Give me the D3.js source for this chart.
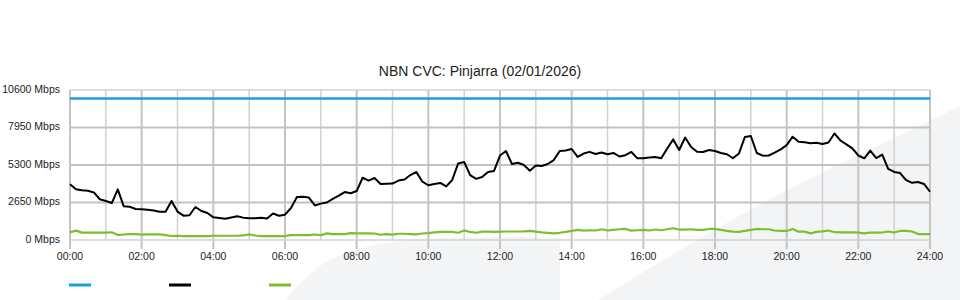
<!DOCTYPE html>
<html><head><meta charset="utf-8">
<script src="https://cdn.jsdelivr.net/npm/d3@7/dist/d3.min.js"></script>
<style>
body{margin:0;background:#fff}
svg{display:block;font-family:"Liberation Sans",Arial,sans-serif}
</style>
</head><body>
<svg id="chart" width="960" height="300"></svg>
<script>
// ---------- data ----------
const chartTitle = "NBN CVC: Pinjarra (02/01/2026)";
const sampleMinutes = 10; // one value every 10 minutes, 00:00 .. 24:00
const yTicks = [0, 2650, 5300, 7950, 10600];
const xTickLabels = ["00:00","02:00","04:00","06:00","08:00","10:00","12:00","14:00","16:00","18:00","20:00","22:00","24:00"];
const capacityHours = [0, 24];
const capacityMbps = [10000, 10000];
const totalMbps = [
3940,3580,3520,3480,3360,2880,2760,2610,3580,2380,2350,2190,2170,2140,2080,1990,2000,2760,2010,1720,
1750,2330,2050,1910,1600,1550,1500,1590,1680,1580,1540,1530,1580,1520,1870,1710,1790,2260,3040,3060,
3000,2440,2570,2650,2910,3130,3390,3300,3460,4400,4200,4380,3960,3980,3990,4200,4270,4590,4810,4120,
3870,3960,4030,3790,4240,5410,5510,4590,4320,4450,4810,4880,5970,6290,5370,5460,5300,4900,5260,5230,
5370,5650,6290,6320,6430,5870,6110,6230,6080,6180,6060,6150,5900,5990,6220,5770,5770,5830,5870,5780,
6470,7110,6360,7240,6570,6240,6220,6360,6290,6150,6060,5780,6110,7280,7350,6150,5960,5970,6180,6400,
6700,7300,6950,6900,6830,6870,6780,6890,7530,7030,6760,6470,5970,5770,6320,5790,6040,5020,4810,4730,
4230,4040,4100,3960,3410];
const otherMbps = [
540,660,520,520,520,520,520,540,350,390,410,420,380,400,400,400,350,280,300,280,
280,280,280,280,300,300,300,300,300,320,400,320,280,280,280,280,280,350,350,350,
350,390,340,470,420,420,420,480,470,470,470,460,370,420,380,440,440,420,400,460,
490,540,570,570,570,510,670,570,510,590,590,580,590,600,600,600,610,640,590,540,
510,470,510,570,640,720,660,690,670,760,670,720,760,780,660,690,710,670,740,690,
760,830,740,740,760,720,710,780,780,710,640,590,570,640,710,780,760,760,670,640,
640,780,590,590,470,570,610,670,550,540,540,540,530,470,530,520,530,600,530,640,
640,600,420,420,420];
const seriesColors = ["#1d9fdc", "#000000", "#7cbf2b"];

// ---------- drawing ----------
const svg = d3.select("#chart");
const W = 960, H = 300;
const x = d3.scaleLinear().domain([0, 24]).range([70, 930]);
const y = d3.scaleLinear().domain([0, 10600]).range([240, 90]);

// background watermark shapes
const bg = svg.append("g");
bg.append("path")
  .attr("d", d3.line().curve(d3.curveBasis)([[285,300],[315,265],[360,246],[420,238],[500,236],[560,238]]) + "L560,300Z")
  .attr("fill", "#f4f5f7");
bg.append("path")
  .attr("d", d3.line().curve(d3.curveBasis)([[598,300],[650,268],[700,238],[790,187],[880,145],[960,106]]) + "L960,300Z")
  .attr("fill", "#f3f4f6");

// title
svg.append("text").attr("x", 480).attr("y", 76).attr("text-anchor", "middle")
  .attr("font-size", 14).attr("fill", "#222").text(chartTitle);

// vertical hour grid
const g = svg.append("g");
g.selectAll(".vg").data(d3.range(0, 25)).join("line")
  .attr("x1", d => x(d)).attr("x2", d => x(d))
  .attr("y1", 90).attr("y2", d => d % 2 === 0 ? 249 : 240)
  .attr("stroke", d => d % 2 === 0 ? "#c4c4c4" : "#d2d2d2")
  .attr("stroke-width", d => d % 2 === 0 ? 2 : 1.5);

// horizontal grid
g.selectAll(".hg").data(yTicks).join("line")
  .attr("x1", 70).attr("x2", 930)
  .attr("y1", d => y(d)).attr("y2", d => y(d))
  .attr("stroke", d => (d === 0 || d === 10600) ? "#d2d2d2" : "#c2c2c2")
  .attr("stroke-width", d => (d === 0 || d === 10600) ? 1.5 : 2.2);

// y labels
svg.selectAll(".yl").data(yTicks).join("text")
  .attr("x", 60).attr("y", d => y(d) + 2.5).attr("text-anchor", "end")
  .attr("font-size", 10.5).attr("fill", "#222")
  .text(d => d + " Mbps");

// x labels
svg.selectAll(".xl").data(xTickLabels).join("text")
  .attr("x", (d, i) => x(i * 2)).attr("y", 260).attr("text-anchor", "middle")
  .attr("font-size", 10.5).attr("fill", "#222")
  .text(d => d);

// series
const hourOf = i => i * sampleMinutes / 60;
const line = d3.line().x(d => x(d[0])).y(d => y(d[1]));
svg.append("path").datum(capacityHours.map((h, i) => [h, capacityMbps[i]]))
  .attr("d", line).attr("fill", "none").attr("stroke", seriesColors[0]).attr("stroke-width", 2.5);
svg.append("path").datum(otherMbps.map((v, i) => [hourOf(i), v]))
  .attr("d", line).attr("fill", "none").attr("stroke", seriesColors[2]).attr("stroke-width", 2.2)
  .attr("stroke-linejoin", "round");
svg.append("path").datum(totalMbps.map((v, i) => [hourOf(i), v]))
  .attr("d", line).attr("fill", "none").attr("stroke", seriesColors[1]).attr("stroke-width", 2)
  .attr("stroke-linejoin", "round");

// legend (swatches only)
svg.selectAll(".lg").data(seriesColors).join("line")
  .attr("x1", (d, i) => 69 + i * 100).attr("x2", (d, i) => 91 + i * 100)
  .attr("y1", 285).attr("y2", 285)
  .attr("stroke", d => d).attr("stroke-width", 3);
</script>
</body></html>
